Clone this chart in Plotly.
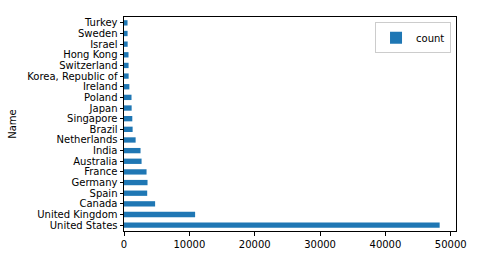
import plotly.graph_objects as go

countries = ["United States", "United Kingdom", "Canada", "Spain", "Germany", "France",
             "Australia", "India", "Netherlands", "Brazil", "Singapore", "Japan", "Poland",
             "Ireland", "Korea, Republic of", "Switzerland", "Hong Kong", "Israel", "Sweden", "Turkey"]
counts = [48300, 10880, 4760, 3550, 3600, 3450, 2690, 2530, 1780, 1320, 1270, 1170, 1150,
          820, 710, 700, 690, 560, 550, 540]
x_ticks = [0, 10000, 20000, 30000, 40000, 50000]

fig = go.Figure()
fig.add_trace(go.Bar(
    y=countries, x=counts, orientation="h", name="count",
    marker=dict(color="#1f77b4", line=dict(width=0)), width=0.5, showlegend=True,
))

fig.update_layout(
    width=479, height=262,
    margin=dict(l=124, r=20, t=17, b=26),
    paper_bgcolor="white", plot_bgcolor="white",
    font=dict(family="DejaVu Sans", size=10, color="black"),
    showlegend=True,
    legend=dict(x=0.985, y=0.975, xanchor="right", yanchor="top",
                bordercolor="#cccccc", borderwidth=1, bgcolor="white",
                font=dict(size=10), itemsizing="constant"),
    xaxis=dict(range=[0, 50800], tickmode="array", tickvals=x_ticks,
               ticktext=[str(v) for v in x_ticks],
               showgrid=False, zeroline=False, showline=True, mirror=True,
               linecolor="black", linewidth=1, ticks="outside", ticklen=3.5,
               tickcolor="black", tickfont=dict(size=10)),
    yaxis=dict(range=[-0.55, 19.55], tickmode="array", tickvals=countries,
               ticktext=countries, showgrid=False, zeroline=False, showline=True,
               mirror=True, linecolor="black", linewidth=1, ticks="outside",
               ticklen=3.5, tickcolor="black", tickfont=dict(size=10),
               title=dict(text="Name", font=dict(size=10), standoff=8)),
)

fig.write_html("out.html")
